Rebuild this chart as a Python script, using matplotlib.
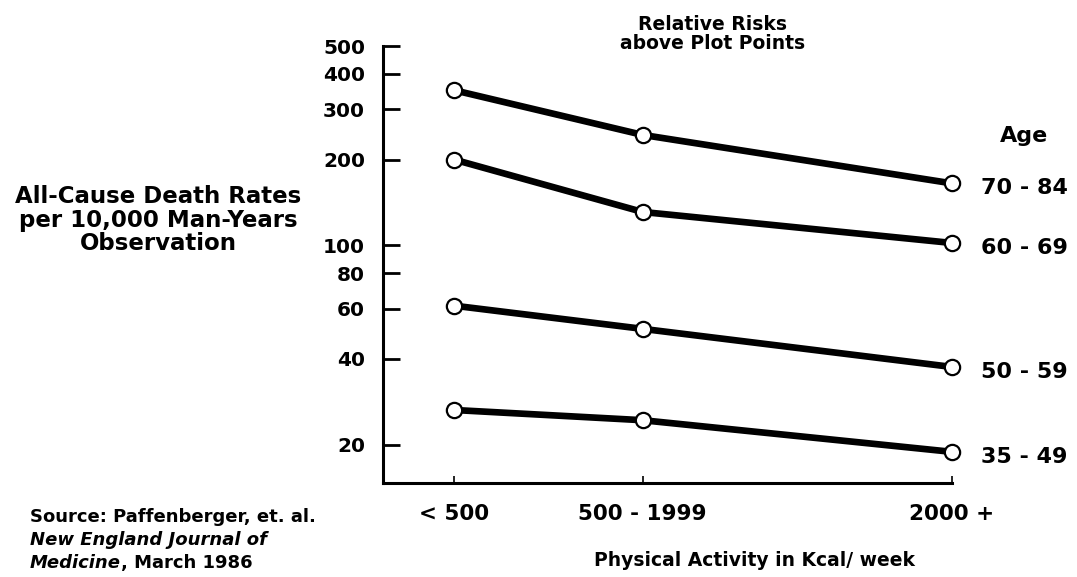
import matplotlib.pyplot as plt
from matplotlib.ticker import FixedLocator, NullLocator

plt.rcParams['font.family'] = ['DejaVu Sans']
plt.rcParams['font.weight'] = 'bold'

# activity groups and where they sit on the x axis
activity_labels = ["< 500", "500 - 1999", "2000 +"]
activity_pos = [0, 1, 2.64]

# death rates per 10,000 man-years, by age group
age_groups = ["70 - 84", "60 - 69", "50 - 59", "35 - 49"]
rates = {
    "70 - 84": [350, 244, 165],
    "60 - 69": [200, 131, 102],
    "50 - 59": [61.5, 51, 37.5],
    "35 - 49": [26.5, 24.4, 18.9],
}

y_ticks = [20, 40, 60, 80, 100, 200, 300, 400, 500]

W, H = 1077, 577
fig = plt.figure(figsize=(W / 100, H / 100), dpi=100)
ax = fig.add_axes([383 / W, (H - 483) / H, (952 - 383) / W, (483 - 46) / H])

for age in age_groups:
    ax.plot(activity_pos, rates[age], color="black", lw=4.8, marker="o",
            markersize=11, markerfacecolor="white", markeredgecolor="black",
            markeredgewidth=1.6, clip_on=False, zorder=3)
    ax.annotate(age, (activity_pos[-1], rates[age][-1]), xytext=(21, -3.5),
                textcoords="offset points", fontsize=16, fontweight="bold",
                va="center", ha="left", annotation_clip=False)

ax.set_yscale("log")
ax.set_ylim(14.7, 500)
ax.set_xlim(-0.376, 2.64)
ax.yaxis.set_major_locator(FixedLocator(y_ticks))
ax.yaxis.set_minor_locator(NullLocator())
ax.set_yticklabels([str(t) for t in y_ticks])
ax.set_xticks(activity_pos)
ax.set_xticklabels(activity_labels)

for s in ["top", "right"]:
    ax.spines[s].set_visible(False)
ax.spines["left"].set_linewidth(2.2)
ax.spines["bottom"].set_linewidth(2.2)
ax.tick_params(axis="y", direction="in", length=12, width=2, pad=13,
               labelsize=14.5)
ax.tick_params(axis="x", direction="in", length=5, width=1.2, pad=15,
               labelsize=15.5)

fig.text(755 / W, 1 - 560 / H, "Physical Activity in Kcal/ week",
         ha="center", va="center", fontsize=13.5, fontweight="bold")

fig.text(158 / W, 1 - 220 / H,
         "All-Cause Death Rates\nper 10,000 Man-Years\nObservation",
         ha="center", va="center", fontsize=16.5, fontweight="bold",
         linespacing=1.05)
fig.text(713 / W, 1 - 34 / H, "Relative Risks\nabove Plot Points",
         ha="center", va="center", fontsize=13.5, fontweight="bold",
         linespacing=1.0)
fig.text(1024 / W, 1 - 136 / H, "Age", ha="center", va="center",
         fontsize=16, fontweight="bold")

fig.text(30 / W, 1 - 522 / H, "Source: Paffenberger, et. al.",
         ha="left", va="baseline", fontsize=13, fontweight="bold")
fig.text(30 / W, 1 - 545 / H, "New England Journal of",
         ha="left", va="baseline", fontsize=13, fontweight="bold",
         style="italic")
t = fig.text(30 / W, 1 - 568 / H, "Medicine", ha="left", va="baseline",
             fontsize=13, fontweight="bold", style="italic")
fig.canvas.draw()
bb = t.get_window_extent()
fig.text(bb.x1 / W, 1 - 568 / H, ", March 1986", ha="left",
         va="baseline", fontsize=13, fontweight="bold")

fig.savefig("out.png", dpi=100)
